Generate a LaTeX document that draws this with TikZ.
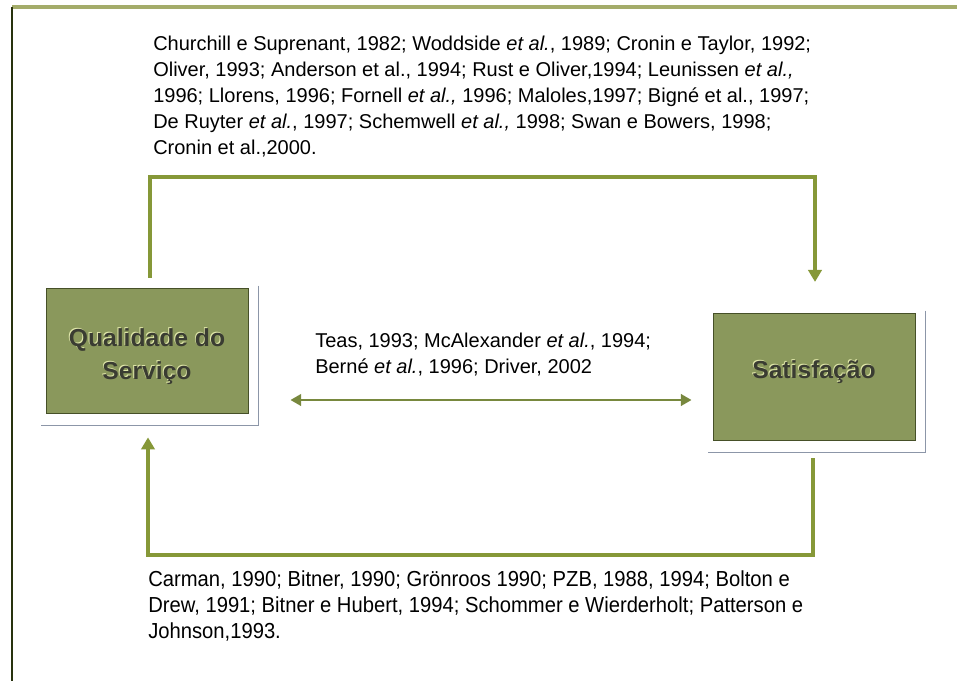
\documentclass[tikz,border=0pt]{standalone}
\usepackage{fontspec}
\setmainfont{Liberation Sans}
\newfontfamily\narrowfont{Liberation Sans}[FakeStretch=0.93]
\usetikzlibrary{arrows.meta}

\definecolor{frameolive}{RGB}{164,172,106}
\definecolor{framedark}{RGB}{40,50,14}
\definecolor{boxfill}{RGB}{138,152,92}
\definecolor{boxedge}{RGB}{70,80,40}
\definecolor{boxtext}{RGB}{58,60,50}
\definecolor{boxglow}{RGB}{225,232,170}
\definecolor{linkolive}{RGB}{134,152,56}
\definecolor{midolive}{RGB}{120,136,62}
\definecolor{shadowgrey}{RGB}{140,150,168}

% light copy behind the caption gives the raised lettering
\newcommand{\embossed}[1]{\rlap{\kern-0.7pt\raisebox{0.7pt}{\textcolor{boxglow}{#1}}}#1}

\begin{document}
\begin{tikzpicture}[x=0.75pt,y=-0.75pt,
  rolebox/.style={draw=boxedge, line width=0.6pt, fill=boxfill,
    minimum width=151.5pt, inner sep=0pt},
  boxlabel/.style={font=\bfseries\fontsize{18.5}{24.75}\selectfont,
    text=boxtext, align=center, inner sep=0pt},
  refs/.style={font=\fontsize{15}{19.5}\selectfont, align=left,
    inner sep=0pt, anchor=north west},
  narrowrefs/.style={refs, font=\narrowfont\fontsize{16.3}{19.6}\selectfont},
  shade/.style={draw=shadowgrey, line width=1.1pt},
  link/.style={draw=linkolive, line width=2.6pt,
    -{Triangle[width=10pt,length=9pt]}},
  twoway/.style={draw=midolive, line width=2.2pt,
    {Triangle[width=8.5pt,length=8pt]}-{Triangle[width=8.5pt,length=8pt]}},
  frametop/.style={draw=frameolive, line width=3pt},
  frameleft/.style={draw=framedark, line width=2.2pt}]

\useasboundingbox (0,0) rectangle (957,681);

% outer frame
\draw[frametop] (12,7) -- (957,7);
\draw[frameleft] (12,7) -- (12,681);

% the two constructs
\node[rolebox, minimum height=93.75pt,
  label={[boxlabel, yshift=-4.5pt]center:{\embossed{Qualidade do}\\\embossed{Serviço}}}]
  (qual) at (147,350.5) {};
\node[rolebox, minimum height=95.25pt,
  label={[boxlabel, yshift=3.4pt]center:{\embossed{Satisfação}}}]
  (sat) at (814,376.5) {};

% offset rules along the right and lower sides of each box
\foreach \b in {qual, sat}{
  \draw[shade] ([xshift=7.5pt,yshift=1.5pt]\b.north east)
    -- ([xshift=7.5pt,yshift=-9pt]\b.south east)
    -- ([xshift=-3.5pt,yshift=-9pt]\b.south west);
}

% reference lists
\node[refs] (toprefs) at (153,36) {Churchill e Suprenant, 1982; Woddside \textit{et al.}, 1989; Cronin e Taylor, 1992;\\
Oliver, 1993; Anderson et al., 1994; Rust e Oliver,1994; Leunissen \textit{et al.,}\\
1996; Llorens, 1996; Fornell \textit{et al.,} 1996; Maloles,1997; Bigné et al., 1997;\\
De Ruyter \textit{et al.}, 1997; Schemwell \textit{et al.,} 1998; Swan e Bowers, 1998;\\
Cronin et al.,2000.};

\node[refs] (midrefs) at (315,333) {Teas, 1993; McAlexander \textit{et al.}, 1994;\\
Berné \textit{et al.}, 1996; Driver, 2002};

\node[narrowrefs] (botrefs) at (148,570) {Carman, 1990; Bitner, 1990; Grönroos 1990; PZB, 1988, 1994; Bolton e\\
Drew, 1991; Bitner e Hubert, 1994; Schommer e Wierderholt; Patterson e\\
Johnson,1993.};

% rails for the connectors
\coordinate (toprail) at (0,177);
\coordinate (midrail) at (0,400);
\coordinate (botrail) at (0,555);

% quality -> satisfaction (upper route)
\draw[link, shorten <=7.5pt, shorten >=23pt]
  ([xshift=2.25pt]qual.north) -- ([xshift=2.25pt]qual.north |- toprail)
  -- ([xshift=0.75pt]sat.north |- toprail) -- ([xshift=0.75pt]sat.north);

% mutual relation
\draw[twoway, shorten <=31.5pt, shorten >=15.75pt]
  (qual.east |- midrail) -- (sat.west |- midrail);

% satisfaction -> quality (lower route)
\draw[link, shorten <=13.5pt, shorten >=18pt]
  ([xshift=-0.75pt]sat.south) -- ([xshift=-0.75pt]sat.south |- botrail)
  -- ([xshift=0.75pt]qual.south |- botrail) -- ([xshift=0.75pt]qual.south);

\end{tikzpicture}
\end{document}
